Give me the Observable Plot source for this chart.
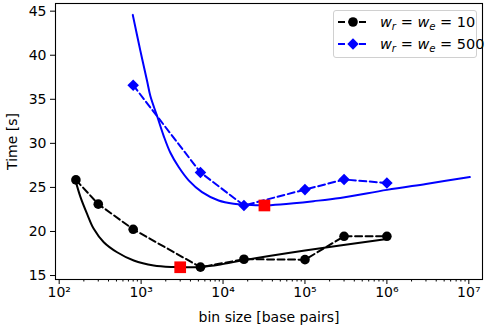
<!DOCTYPE html>
<html><head><meta charset="utf-8">
<script src="https://cdn.jsdelivr.net/npm/d3@7"></script>
<script src="https://cdn.jsdelivr.net/npm/@observablehq/plot@0.6"></script>
<style>
body{margin:0;background:#fff;font-family:"DejaVu Sans",sans-serif;color:#000;}
#wrap{position:relative;width:485px;height:333px;}
.legend{position:absolute;left:333px;top:10px;width:144px;height:48px;box-sizing:border-box;border:1px solid #d0d0d0;border-radius:3px;background:rgba(255,255,255,0.85);}
.row{position:absolute;left:4px;height:20px;display:flex;align-items:center;font-size:14.5px;white-space:nowrap;}
.row svg{margin-right:12px;}
.m i{font-style:italic;}
.m sub{font-size:70%;vertical-align:-0.25em;line-height:0;}
</style>
</head><body>
<div id="wrap"></div>
<script>
// measured points
const bins10 = [160, 300, 800, 5300, 18000, 100000, 300000, 1000000];
const time10 = [25.85, 23.1, 20.25, 15.95, 16.85, 16.8, 19.45, 19.45];
const bins500 = [800, 5300, 18000, 100000, 300000, 1000000];
const time500 = [36.6, 26.7, 22.95, 24.75, 25.9, 25.5];
// fitted curves
const fit10X = [158, 182, 219, 264, 350, 509, 813, 1425, 2500, 3000, 5280, 9270, 18000, 100000, 1000000];
const fit10Y = [25.8, 23.9, 22.0, 20.3, 18.78, 17.64, 16.7, 16.14, 15.96, 15.94, 15.97, 16.25, 16.75, 17.85, 19.15];
const fit500X = [791, 980, 1183, 1297, 1567, 1888, 2277, 2874, 3805, 5540, 8830, 13460, 19600, 31300, 50000, 127000, 269000, 1000000, 3000000, 10300000];
const fit500Y = [44.58, 40.49, 37.08, 35.37, 33.1, 30.83, 28.93, 27.31, 25.8, 24.47, 23.52, 23.15, 23.03, 22.97, 23.07, 23.44, 23.8, 24.72, 25.4, 26.17];
// optima (red squares)
const optX = [3000, 32000];
const optY = [15.94, 22.95];
// ticks
const xTicks = [1e2, 1e3, 1e4, 1e5, 1e6, 1e7];
const yTicks = [15, 20, 25, 30, 35, 40, 45];
const xDomain = [Math.pow(10, 1.955), Math.pow(10, 7.167)];
const yDomain = [14.55, 45.87];

const sup = {"2":"²","3":"³","4":"⁴","5":"⁵","6":"⁶","7":"⁷"};
const fmt = v => "10" + sup[String(Math.round(Math.log10(v)))];
const minor = [];
for (let d = 1; d <= 7; d++) for (let k = 2; k <= 9; k++) {
  const v = k * Math.pow(10, d);
  if (v >= xDomain[0] && v <= xDomain[1]) minor.push(v);
}

const s10 = bins10.map((x, i) => ({x, y: time10[i]}));
const s500 = bins500.map((x, i) => ({x, y: time500[i]}));
const f10 = fit10X.map((x, i) => ({x, y: fit10Y[i]}));
const f500 = fit500X.map((x, i) => ({x, y: fit500Y[i]}));
const opt = optX.map((x, i) => ({x, y: optY[i]}));

const chart = Plot.plot({
  width: 485, height: 333,
  marginLeft: 55, marginRight: 3, marginTop: 3, marginBottom: 54,
  style: {fontFamily: "DejaVu Sans, sans-serif", fontSize: "14px", color: "#000", background: "#fff"},
  x: {type: "log", domain: xDomain},
  y: {domain: yDomain},
  marks: [
    Plot.axisX({ticks: minor, tickSize: 2.5, tickFormat: () => "", label: null}),
    Plot.axisX({ticks: xTicks, tickSize: 5, tickPadding: 3, tickFormat: fmt, fontSize: 14,
      label: "bin size [base pairs]", labelAnchor: "center", labelArrow: "none", labelOffset: 42}),
    Plot.axisY({ticks: yTicks, tickSize: 5, tickPadding: 4, fontSize: 14,
      label: "Time [s]", labelAnchor: "center", labelArrow: "none", labelOffset: 48}),
    Plot.line(f10, {x: "x", y: "y", stroke: "#000", strokeWidth: 2, curve: "catmull-rom"}),
    Plot.line(f500, {x: "x", y: "y", stroke: "#0000ff", strokeWidth: 2, curve: "catmull-rom"}),
    Plot.line(s10, {x: "x", y: "y", stroke: "#000", strokeWidth: 2, strokeDasharray: "7,3.5"}),
    Plot.line(s500, {x: "x", y: "y", stroke: "#0000ff", strokeWidth: 2, strokeDasharray: "7,3.5"}),
    Plot.dot(s10, {x: "x", y: "y", r: 4.8, fill: "#000", stroke: "none"}),
    Plot.dot(s500, {x: "x", y: "y", r: 5.2, symbol: "diamond2", fill: "#0000ff", stroke: "none"}),
    Plot.dot(opt, {x: "x", y: "y", r: 6.6, symbol: "square", fill: "#ff0000", stroke: "none"}),
    Plot.frame({stroke: "#000", strokeWidth: 1.1})
  ]
});
const wrap = document.getElementById("wrap");
wrap.appendChild(chart);

const legendItems = [
  {color: "#000", sym: "circle", label: '<i>w</i><sub><i>r</i></sub> = <i>w</i><sub><i>e</i></sub> = 10'},
  {color: "#0000ff", sym: "diamond", label: '<i>w</i><sub><i>r</i></sub> = <i>w</i><sub><i>e</i></sub> = 500'}
];
const leg = document.createElement("div");
leg.className = "legend";
legendItems.forEach((it, i) => {
  const row = document.createElement("div");
  row.className = "row";
  row.style.top = (i === 0 ? 1 : 23) + "px";
  const marker = it.sym === "circle"
    ? `<circle cx="15" cy="6" r="4.8" fill="${it.color}"/>`
    : `<path d="M15,0.3 L20.7,6 L15,11.7 L9.3,6 Z" fill="${it.color}"/>`;
  row.innerHTML = `<svg width="30" height="12"><line x1="0" y1="6" x2="30" y2="6" stroke="${it.color}" stroke-width="2" stroke-dasharray="7,3.5"/>${marker}</svg><span class="m">${it.label}</span>`;
  leg.appendChild(row);
});
wrap.appendChild(leg);
</script>
</body></html>
